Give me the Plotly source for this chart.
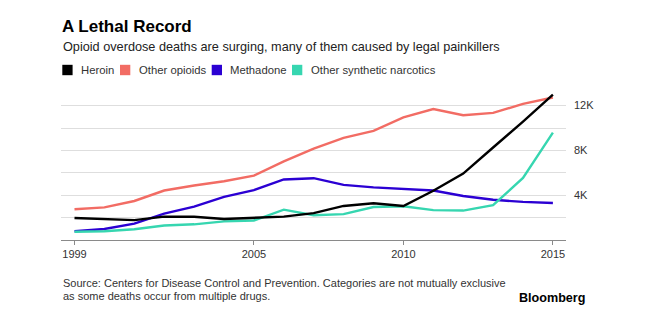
import plotly.graph_objects as go

years = list(range(1999, 2016))
heroin = [1960, 1842, 1779, 2089, 2080, 1878, 2009, 2088, 2399, 3041, 3278, 3036, 4397, 5925, 8257, 10574, 12989]
other_opioids = [2749, 2917, 3484, 4416, 4867, 5242, 5749, 7017, 8158, 9119, 9748, 10943, 11693, 11140, 11346, 12159, 12727]
methadone = [784, 986, 1456, 2358, 2972, 3845, 4460, 5406, 5518, 4924, 4696, 4577, 4418, 3932, 3591, 3400, 3301]
synthetic = [730, 782, 957, 1295, 1400, 1664, 1742, 2707, 2213, 2306, 2946, 3007, 2666, 2628, 3105, 5544, 9580]

series_names = ["Heroin", "Other opioids", "Methadone", "Other synthetic narcotics"]
series_values = [heroin, other_opioids, methadone, synthetic]
series_colors = ["#000000", "#f26c64", "#2b00d3", "#36d6b0"]

x_tickvals = [1999, 2005, 2010, 2015]
y_tickvals = [2000, 4000, 6000, 8000, 10000, 12000]
y_ticktext = ["", "4K", "", "8K", "", "12K"]

FONT = "Liberation Sans, Arial, sans-serif"
W, H = 650, 323
ML, MR, MT, MB = 61, 84, 92, 83
PW, PH = W - ML - MR, H - MT - MB


def px(xp):
    return (xp - ML) / PW


def py(yp):
    return (H - MB - yp) / PH


fig = go.Figure()
draw_order = [1, 2, 3, 0]
for i in draw_order:
    fig.add_trace(go.Scatter(
        x=years, y=series_values[i], mode="lines", name=series_names[i],
        line=dict(color=series_colors[i], width=2.4), showlegend=False,
        cliponaxis=False,
    ))

shapes = []
annotations = []

# Custom legend
sq_x = [62.3, 120, 211.7, 292]
for name, color, sx in zip(series_names, series_colors, sq_x):
    shapes.append(dict(type="rect", xref="paper", yref="paper",
                       x0=px(sx), x1=px(sx + 10.3), y0=py(75.2), y1=py(64.8),
                       fillcolor=color, line=dict(width=0), layer="above"))
    annotations.append(dict(text=name, xref="paper", yref="paper",
                            x=px(sx + 16.7), y=py(70), xanchor="left", yanchor="middle",
                            showarrow=False, font=dict(family=FONT, size=11.3, color="#333333")))

# Title & subtitle
annotations.append(dict(text="<b>A Lethal Record</b>", xref="paper", yref="paper",
                        x=px(60), y=py(27), xanchor="left", yanchor="middle", showarrow=False,
                        font=dict(family=FONT, size=17, color="#000000")))
annotations.append(dict(text="Opioid overdose deaths are surging, many of them caused by legal painkillers",
                        xref="paper", yref="paper", x=px(60.5), y=py(46.5), xanchor="left",
                        yanchor="middle", showarrow=False,
                        font=dict(family=FONT, size=12.7, color="#222222")))
# Source
annotations.append(dict(text="Source: Centers for Disease Control and Prevention. Categories are not mutually exclusive",
                        xref="paper", yref="paper", x=px(60.5), y=py(283), xanchor="left",
                        yanchor="middle", showarrow=False,
                        font=dict(family=FONT, size=11, color="#333333")))
annotations.append(dict(text="as some deaths occur from multiple drugs.",
                        xref="paper", yref="paper", x=px(60.5), y=py(296), xanchor="left",
                        yanchor="middle", showarrow=False,
                        font=dict(family=FONT, size=11, color="#333333")))
annotations.append(dict(text="<b>Bloomberg</b>", xref="paper", yref="paper",
                        x=px(586.5), y=py(297.5), xanchor="right", yanchor="middle", showarrow=False,
                        font=dict(family=FONT, size=12.6, color="#000000")))

x0 = 1999 - 13.5 / 29.9
x1 = x0 + PW / 29.9
fig.update_layout(
    width=W, height=H,
    margin=dict(l=ML, r=MR, t=MT, b=MB, pad=0),
    paper_bgcolor="white", plot_bgcolor="white",
    shapes=shapes, annotations=annotations,
    xaxis=dict(range=[x0, x1], tickvals=x_tickvals, ticktext=[str(v) for v in x_tickvals],
               showgrid=False, zeroline=False, showline=True, linecolor="#8a8a8a", linewidth=1.3,
               ticks="outside", ticklen=4, tickcolor="#8a8a8a", tickwidth=1,
               tickfont=dict(family=FONT, size=11, color="#333333")),
    yaxis=dict(range=[0, PH / 11.2 * 1000], tickvals=y_tickvals, ticktext=y_ticktext,
               side="right", showgrid=True, gridcolor="#dedede", gridwidth=1,
               zeroline=False, showline=False, ticks="", ticklabelstandoff=7,
               tickfont=dict(family=FONT, size=11, color="#333333")),
)

fig.write_html("out.html")
